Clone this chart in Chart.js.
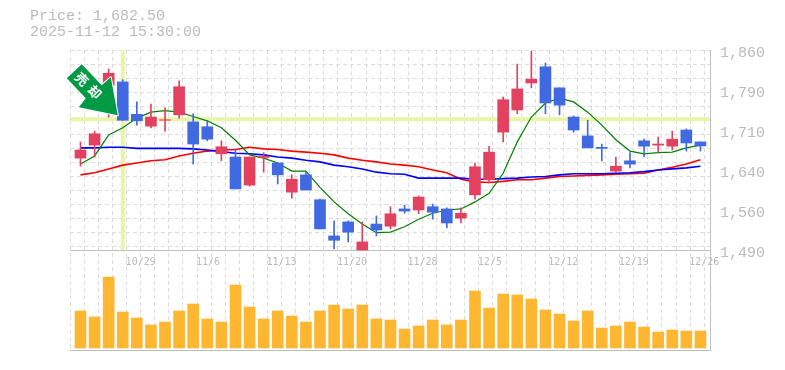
<!DOCTYPE html>
<html>
<head>
<meta charset="utf-8">
<script src="https://cdn.jsdelivr.net/npm/chart.js@4"></script>
<style>
  html, body { margin: 0; padding: 0; background: #fff; }
  #head { position: absolute; left: 30px; top: 9px; font: 15px/16px "Liberation Mono", monospace; color: #bbb; white-space: pre; }
  canvas { display: block; }
</style>
</head>
<body>
<canvas id="grafica" width="785" height="370"></canvas>
<div id="head">Price: 1,682.50
2025-11-12 15:30:00</div>
<script>
// DATOS
const opens  = [1660,1684,1795,1801,1741,1719,1730,1740,1727,1718,1668,1662,1610,1661,1651,1597,1629,1583,1516,1542,1490,1538,1534,1566,1564,1570,1566,1549,1592,1620,1708,1749,1799,1829,1790,1736,1701,1680,1636,1655,1692,1684,1682,1712,1690];
const closes = [1675,1705,1817,1730,1729,1736,1731,1792,1686,1695,1681,1603,1662,1663,1629,1621,1601,1529,1508,1523,1505,1527,1557,1562,1588,1560,1540,1558,1644,1671,1768,1788,1806,1762,1758,1712,1679,1678,1645,1649,1682,1686,1695,1688,1682.5];
const highs  = [1690,1710,1825,1805,1764,1760,1753,1803,1742,1729,1692,1677,1662,1670,1651,1629,1634,1584,1544,1544,1542,1553,1570,1573,1590,1575,1568,1568,1651,1682,1773,1834,1858,1836,1790,1738,1730,1686,1662,1670,1695,1699,1710,1714,1690];
const lows   = [1645,1662,1736,1730,1721,1716,1710,1734,1649,1692,1655,1603,1608,1634,1612,1586,1601,1529,1492,1505,1490,1516,1529,1558,1557,1547,1531,1540,1584,1614,1690,1742,1790,1742,1740,1708,1679,1655,1634,1642,1662,1671,1675,1673,1673];

const maCorta = [1649,1664,1703,1716,1734,1745,1748,1745,1737,1729,1716,1693,1666,1660,1651,1636,1636,1606,1579,1557,1538,1522,1523,1533,1547,1558,1564,1566,1579,1595,1632,1690,1736,1762,1771,1764,1745,1721,1694,1673,1668,1670,1671,1679,1684];
const maMedia = [1679,1679,1680,1680,1678,1678,1678,1678,1677,1675,1672,1669,1668,1666,1662,1660,1656,1653,1647,1644,1640,1634,1631,1630,1623,1623,1623,1623,1621,1621,1622,1623,1625,1626,1629,1631,1631,1631,1632,1633,1635,1638,1640,1642,1645];
const maLarga = [1629,1633,1640,1647,1651,1655,1657,1664,1669,1673,1675,1676,1680,1677,1676,1673,1671,1669,1666,1660,1656,1653,1649,1647,1644,1638,1633,1621,1616,1615,1617,1620,1620,1623,1626,1627,1628,1629,1630,1631,1632,1638,1643,1649,1657];

// altura de volumen
const volumen = [37,31,71,36,30,23,26,37,44,29,26,63,41,29,37,32,26,37,43,39,43,29,28,19,22,28,23,28,57,40,54,53,49,38,34,27,37,20,22,26,21,16,18,17,17];

const precioTicks = [1860,1786,1712,1638,1564,1490];
const precioLabels = ["1,860","1,790","1,710","1,640","1,560","1,490"];
const fechaLabels = {4:"10/29",9:"11/6 ",14:"11/13",19:"11/20",24:"11/28",29:"12/5 ",34:"12/12",39:"12/19",44:"12/26"};

const cruceIndice = 3;
const crucePrecio = 1732;

const ROJO = "#e24260", AZUL = "#4169e1", NARANJA = "#ffb732", LIMA = "#e6f5a8";
const GRIS_GRID = "#dcdcdc", GRIS_EJE = "#c0c0c0", GRIS_TXT = "#bbb";
const xMin = -0.745, xMax = 44.68, precioMin = 1305, precioMax = 1860;

const esSube = closes.map((c, i) => c >= opens[i]);
const colores = esSube.map(s => s ? ROJO : AZUL);
const puntos = arr => arr.map((v, i) => ({ x: i, y: v }));

function linea(serie, color, ancho, orden) {
  return { type: "line", data: puntos(serie), borderColor: color, borderWidth: ancho, pointRadius: 0, tension: 0, order: orden };
}

// flecha con su texto, anclada a la vela del cruce
const flecha = {
  id: "flecha",
  afterDatasetsDraw(chart) {
    const { ctx, scales } = chart;
    const px = scales.x.getPixelForValue(cruceIndice) - 5;
    const py = scales.y.getPixelForValue(crucePrecio) - 4;
    const forma = [[-36,-51],[-51,-37],[-32,-17],[-39,-8],[0,0],[-7,-38],[-16,-30]];
    ctx.save();
    ctx.beginPath();
    forma.forEach((p, i) => i ? ctx.lineTo(px + p[0], py + p[1]) : ctx.moveTo(px + p[0], py + p[1]));
    ctx.closePath();
    ctx.fillStyle = "#009944";
    ctx.strokeStyle = "#fff";
    ctx.lineWidth = 2;
    ctx.lineJoin = "round";
    ctx.stroke();
    ctx.fill();
    ctx.fillStyle = "#fff";
    ctx.font = 'bold 13px "Noto Sans CJK JP"';
    ctx.textAlign = "center";
    ctx.textBaseline = "middle";
    [["売", -36, -36], ["却", -23, -23]].forEach(t => {
      ctx.save();
      ctx.translate(px + t[1], py + t[2]);
      ctx.rotate(Math.PI / 4);
      ctx.fillText(t[0], 0, 0);
      ctx.restore();
    });
    ctx.restore();
  }
};

new Chart(document.getElementById("grafica").getContext("2d"), {
  type: "bar",
  data: {
    datasets: [
      // cuerpo y mecha de las velas
      { data: opens.map((o, i) => ({ x: i, y: [o, closes[i]] })), backgroundColor: colores, barThickness: 11, grouped: false, order: 1 },
      { data: lows.map((l, i) => ({ x: i, y: [l, highs[i]] })), backgroundColor: colores, barThickness: 1, grouped: false, order: 2 },
      linea(maCorta, "#008000", 1.2, 3),
      linea(maMedia, "#0000ff", 1.6, 4),
      linea(maLarga, "#ff0000", 1.6, 5),
      { type: "line", data: [{ x: xMin, y: crucePrecio }, { x: xMax, y: crucePrecio }], borderColor: LIMA, borderWidth: 4, pointRadius: 0, order: 6 },
      { type: "line", data: [{ x: cruceIndice, y: precioMax }, { x: cruceIndice, y: 1490 }], borderColor: LIMA, borderWidth: 4, pointRadius: 0, order: 6 },
      { data: puntos(volumen), yAxisID: "yVol", backgroundColor: NARANJA, barThickness: 11, grouped: false, order: 7 }
    ]
  },
  options: {
    responsive: false,
    animation: false,
    events: [],
    layout: { padding: { left: 70, top: 50, right: 0, bottom: 20 } },
    plugins: { legend: { display: false }, tooltip: { enabled: false } },
    scales: {
      x: {
        type: "linear",
        min: xMin,
        max: xMax,
        offset: false,
        position: { y: 1490 },
        grid: { offset: false, color: GRIS_GRID, drawTicks: false },
        border: { display: false, dash: [4, 3] },
        ticks: {
          font: { family: "DejaVu Sans Mono", size: 10 },
          color: GRIS_TXT,
          padding: 6,
          maxRotation: 0,
          autoSkip: false,
          callback: (v, i) => fechaLabels[i - 1] || ""
        },
        afterBuildTicks(s) {
          s.ticks = [{ value: xMin }].concat(opens.map((o, i) => ({ value: i + 0.27 })));
        },
        afterFit(s) { s.height = 0; }
      },
      y: {
        position: "right",
        min: precioMin,
        max: precioMax,
        grid: { display: false, drawTicks: false },
        border: { display: true, color: GRIS_EJE, width: 1 },
        ticks: {
          font: { family: "Liberation Mono", size: 15 },
          color: GRIS_TXT,
          padding: 10,
          labelOffset: 3,
          align: "center",
          callback: (v, i) => precioLabels[i]
        },
        afterBuildTicks(s) { s.ticks = precioTicks.map(v => ({ value: v })); },
        afterFit(s) { s.width = 75; }
      },
      yGrid: {
        axis: "y",
        position: "left",
        min: precioMin,
        max: precioMax,
        border: { display: false, dash: c => (c.tick && (c.tick.value === 1490 || c.tick.value === precioMin)) ? [] : [4, 3] },
        grid: {
          drawTicks: false,
          color: c => (c.tick && (c.tick.value === 1490 || c.tick.value === precioMin)) ? GRIS_EJE : GRIS_GRID
        },
        ticks: { display: false },
        afterBuildTicks(s) {
          const t = [{ value: precioMin }, { value: 1490 }];
          for (let p = precioMax; p > 1490; p -= 26) t.push({ value: p });
          s.ticks = t;
        },
        afterFit(s) { s.width = 0; }
      },
      yVol: {
        axis: "y",
        position: "right",
        display: false,
        min: -2,
        max: 298
      }
    }
  },
  plugins: [flecha]
});
</script>
</body>
</html>
